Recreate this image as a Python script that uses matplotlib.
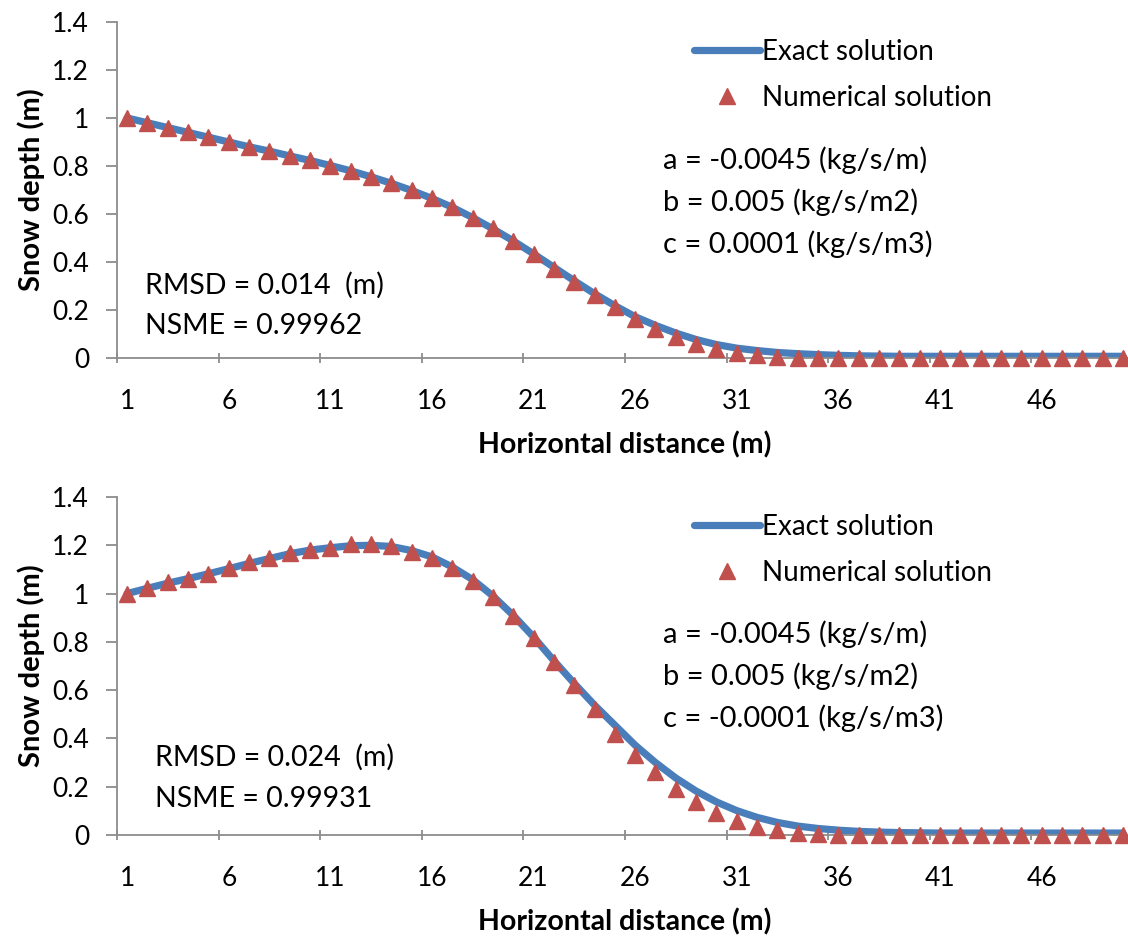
import matplotlib
matplotlib.use("Agg")
import matplotlib.pyplot as plt
import numpy as np

plt.rcParams['font.family'] = ['Lato', 'DejaVu Sans']

# horizontal distance categories
distance = np.arange(1, 51)

# top panel (c = 0.0001)
exact_top = [1.0, 0.98, 0.96, 0.94, 0.92, 0.90, 0.88, 0.862, 0.842, 0.823,
             0.802, 0.78, 0.755, 0.728, 0.698, 0.665, 0.628, 0.585, 0.538, 0.488,
             0.434, 0.378, 0.322, 0.268, 0.218, 0.172, 0.136, 0.104, 0.077, 0.056,
             0.041, 0.031, 0.023, 0.018, 0.014, 0.011, 0.009, 0.008, 0.007, 0.007,
             0.007, 0.007, 0.007, 0.007, 0.007, 0.007, 0.007, 0.007, 0.007, 0.007]
numer_top = [1.0, 0.98, 0.958, 0.94, 0.92, 0.90, 0.88, 0.862, 0.842, 0.823,
             0.802, 0.78, 0.755, 0.728, 0.698, 0.665, 0.628, 0.582, 0.54, 0.486,
             0.432, 0.372, 0.316, 0.262, 0.212, 0.162, 0.12, 0.088, 0.06, 0.038,
             0.022, 0.011, 0.005, 0.002, 0.0, 0.0, 0.0, 0.0, 0.0, 0.0,
             0.0, 0.0, 0.0, 0.0, 0.0, 0.0, 0.0, 0.0, 0.0, 0.0]

# bottom panel (c = -0.0001)
exact_bot = [1.0, 1.022, 1.043, 1.062, 1.082, 1.103, 1.125, 1.145, 1.165, 1.18,
             1.19, 1.198, 1.2, 1.195, 1.178, 1.152, 1.11, 1.058, 0.99, 0.91,
             0.82, 0.722, 0.628, 0.538, 0.455, 0.372, 0.3, 0.236, 0.182, 0.137,
             0.101, 0.073, 0.052, 0.037, 0.027, 0.02, 0.015, 0.012, 0.01, 0.009,
             0.008, 0.008, 0.008, 0.008, 0.008, 0.008, 0.008, 0.008, 0.008, 0.008]
numer_bot = [1.0, 1.024, 1.046, 1.062, 1.083, 1.104, 1.129, 1.146, 1.167, 1.18,
             1.19, 1.204, 1.204, 1.195, 1.174, 1.149, 1.104, 1.053, 0.986, 0.907,
             0.817, 0.715, 0.621, 0.521, 0.42, 0.33, 0.26, 0.19, 0.135, 0.09,
             0.058, 0.035, 0.02, 0.01, 0.005, 0.0, 0.0, 0.0, 0.0, 0.0,
             0.0, 0.0, 0.0, 0.0, 0.0, 0.0, 0.0, 0.0, 0.0, 0.0]

params_top = ["a = -0.0045 (kg/s/m)", "b = 0.005 (kg/s/m2)", "c = 0.0001 (kg/s/m3)"]
params_bot = ["a = -0.0045 (kg/s/m)", "b = 0.005 (kg/s/m2)", "c = -0.0001 (kg/s/m3)"]
stats_top = ["RMSD = 0.014  (m)", "NSME = 0.99962"]
stats_bot = ["RMSD = 0.024  (m)", "NSME = 0.99931"]

blue = '#4A7EBB'
red = '#C0504D'
grey = '#8C8C8C'

fig = plt.figure(figsize=(11.28, 9.36), dpi=100)
ax1 = fig.add_axes([117 / 1128, 1 - 358 / 936, 1016 / 1128, 336 / 936])
ax2 = fig.add_axes([117 / 1128, 1 - 835 / 936, 1016 / 1128, 338 / 936])


def draw_panel(ax, exact, numer, params, stats, px, py, sx, sy):
    ax.plot(distance, exact, color=blue, lw=5.2, solid_capstyle='round',
            label='Exact solution', zorder=2)
    ax.plot(distance, numer, ls='none', marker='^', ms=11.5, color=red,
            label='Numerical solution', zorder=3, clip_on=False)
    ax.set_xlim(0.5, 50.5)
    ax.set_ylim(0, 1.4)
    ax.set_yticks(np.arange(0, 1.41, 0.2))
    ax.set_yticklabels(['0', '0.2', '0.4', '0.6', '0.8', '1', '1.2', '1.4'])
    ax.set_xticks(np.arange(1, 50, 5))
    ax.set_xticks(np.arange(0.5, 51, 5), minor=True)
    ax.tick_params(axis='x', which='major', length=0, pad=22, labelsize=19)
    ax.tick_params(axis='x', which='minor', length=7, width=1.3, color=grey, direction='inout')
    ax.tick_params(axis='y', length=8, width=1.3, color=grey, labelsize=19, pad=12)
    for s in ['top', 'right']:
        ax.spines[s].set_visible(False)
    for s in ['left', 'bottom']:
        ax.spines[s].set_color(grey)
        ax.spines[s].set_linewidth(1.3)
    ax.set_ylabel('Snow depth (m)', fontsize=21, fontweight='bold', labelpad=5)
    ax.set_xlabel('Horizontal distance (m)', fontsize=20.5, fontweight='bold', labelpad=13)
    ax.legend(loc='upper left', bbox_to_anchor=(0.543, 1.025), frameon=False,
              fontsize=20, handlelength=2.4, handletextpad=0.05, labelspacing=0.72)
    for i, t in enumerate(params):
        ax.text(px, py - i * 0.125, t, transform=ax.transAxes, fontsize=21, va='center')
    for i, t in enumerate(stats):
        ax.text(sx, sy - i * 0.123, t, transform=ax.transAxes, fontsize=20.5, va='center')


draw_panel(ax1, exact_top, numer_top, params_top, stats_top,
           0.537, (358 - 160) / 336, 0.028, (358 - 285) / 336)
draw_panel(ax2, exact_bot, numer_bot, params_bot, stats_bot,
           0.537, (835 - 634) / 338, 0.037, (835 - 757) / 338)

fig.savefig('out.png', dpi=100)
